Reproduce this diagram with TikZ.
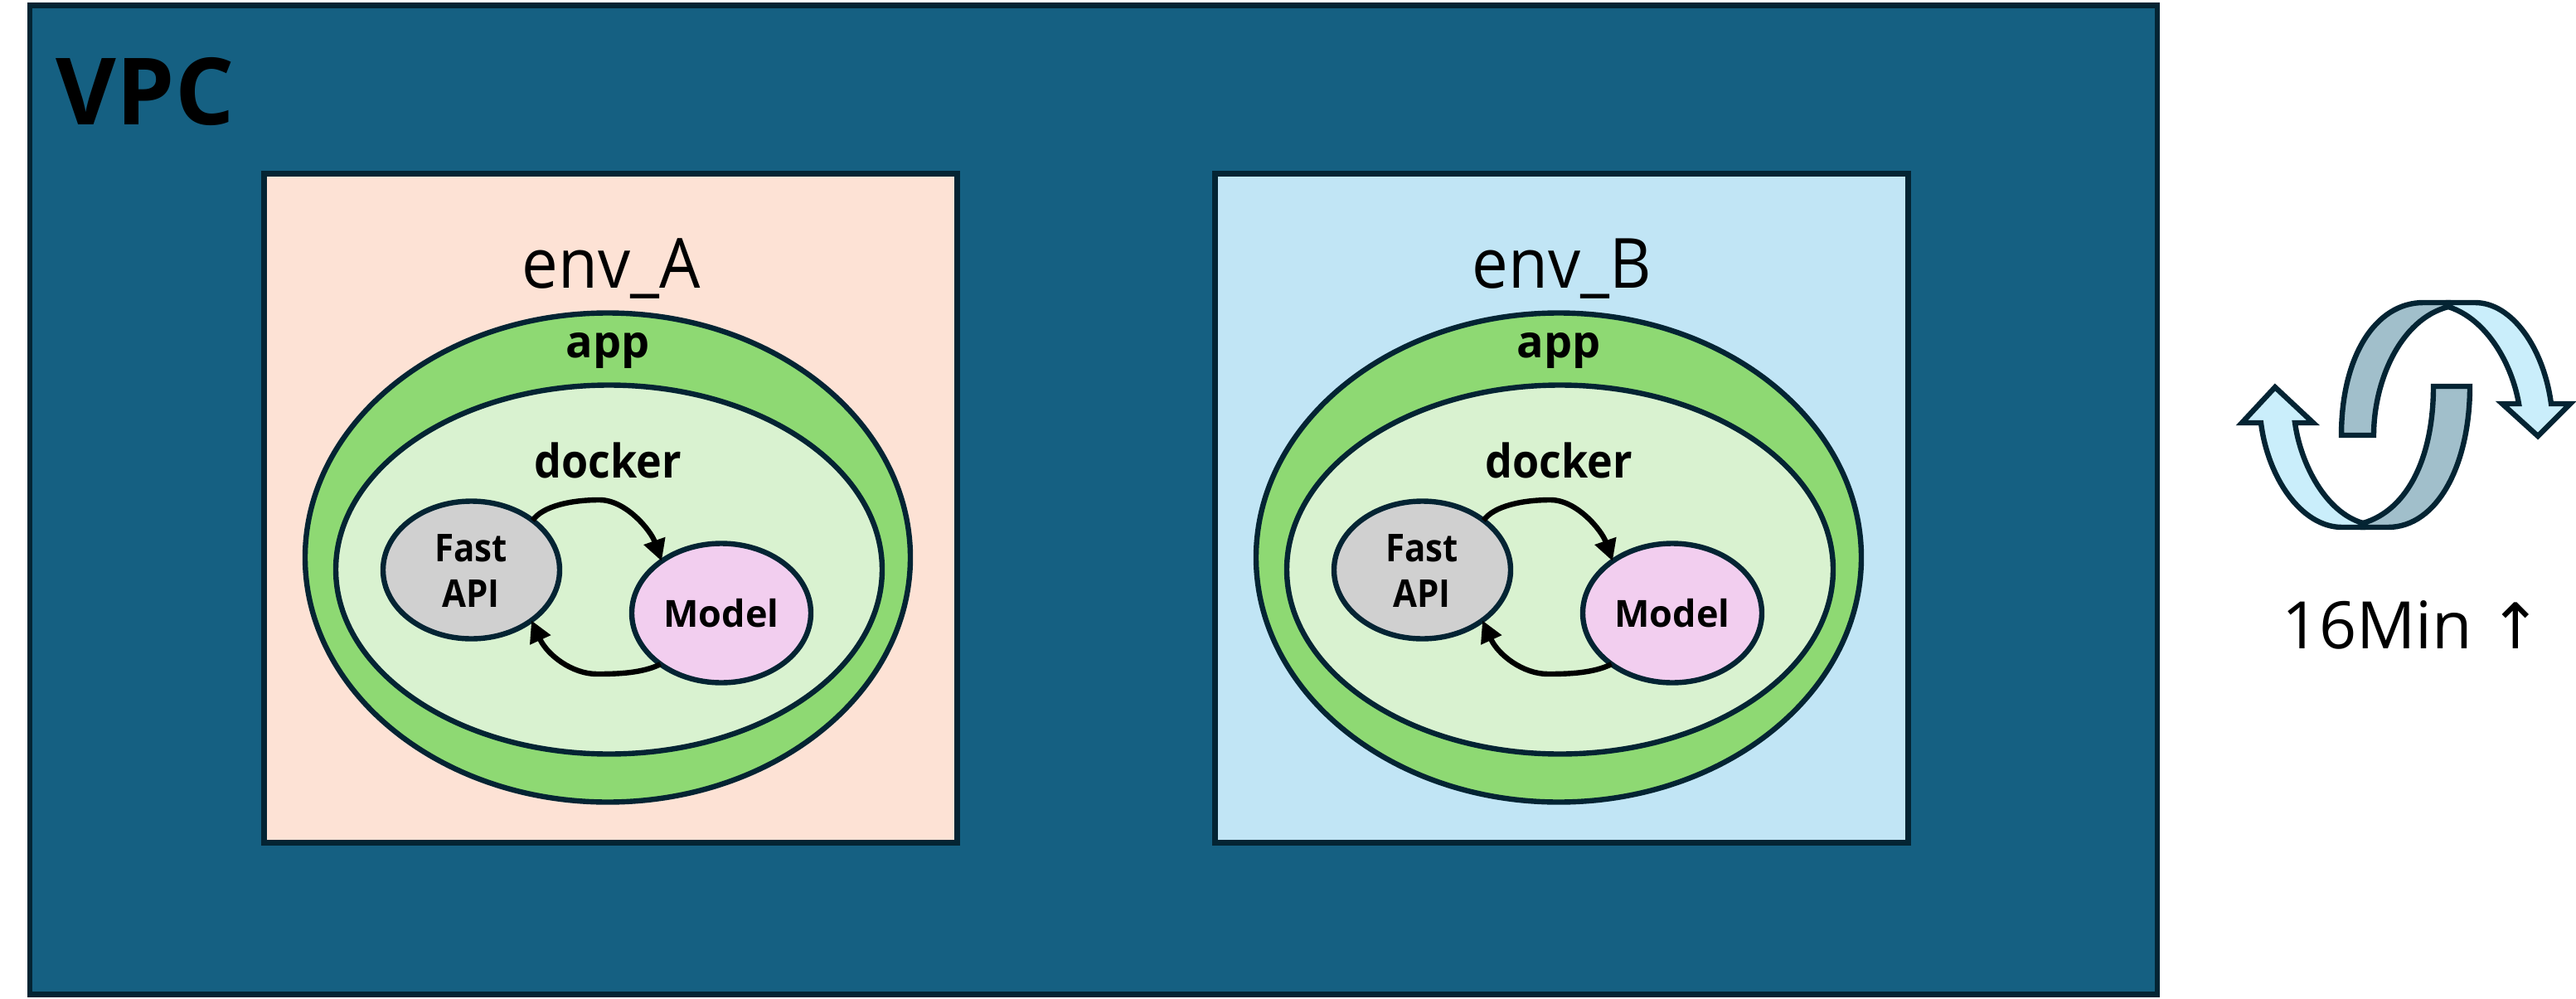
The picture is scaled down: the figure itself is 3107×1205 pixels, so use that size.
\documentclass[tikz,border=0pt]{standalone}
\usepackage{fontspec}
\usepackage{graphicx}
\setmainfont{Open Sans}
\newfontfamily\arrowfont{DejaVu Sans}
\usetikzlibrary{arrows.meta,shapes.geometric}
\definecolor{edgec}{HTML}{042433}
\definecolor{vpcc}{HTML}{156082}
\definecolor{envac}{HTML}{FDE2D5}
\definecolor{envbc}{HTML}{C1E5F5}
\definecolor{appc}{HTML}{8ED973}
\definecolor{dockc}{HTML}{D9F2D0}
\definecolor{fastc}{HTML}{D0D0D0}
\definecolor{modc}{HTML}{F2CEEF}
\definecolor{lightc}{HTML}{CAEEFB}
\definecolor{darkc}{HTML}{A1BFCB}
\tikzset{
  every node/.append style={outer sep=0pt},
  shapeline/.style={draw=edgec,line width=3.4pt},
  ringnode/.style={draw=edgec,line width=3.2pt,ellipse,inner sep=0pt},
  boldlabel/.style={text=black,inner sep=0pt,anchor=base},
  flow/.style={draw=black,line width=3.2pt,-{Triangle[length=13pt,width=13pt]}},
  iconline/.style={draw=edgec,line width=3.2pt,line join=miter},
}
\newcommand{\envgroup}[3]{%
  \begin{scope}[xshift=#1*0.5pt]
    \node[shapeline,fill=#2,minimum width=418pt,minimum height=403.5pt,inner sep=0pt] (box#3) at (736.5,613) {};
    \node[font=\fontsize{39}{42}\selectfont,inner sep=0pt,anchor=base,text=black] (env#3) at (737,347) {\scalebox{1}[1.07]{env\_#3}};
    \node[ringnode,fill=appc,minimum width=365pt,minimum height=295pt] (app#3) at (733,672.5) {};
    \node[boldlabel,font=\bfseries\fontsize{27}{30}\selectfont] (applab#3) at (733,431) {app};
    \node[ringnode,fill=dockc,minimum width=329.5pt,minimum height=222.5pt] (dock#3) at (734.5,687) {};
    \node[boldlabel,font=\bfseries\fontsize{26}{30}\selectfont] (docklab#3) at (733,576) {\scalebox{1}[1.08]{docker}};
    \node[ringnode,fill=fastc,minimum width=106.5pt,minimum height=83pt] (fast#3) at (568.5,687.5) {};
    \node[inner sep=0pt,text=black,font=\bfseries\fontsize{21}{27.5}\selectfont,align=center] (fasttxt#3) at (568,688) {\scalebox{1}[1.1]{Fast}\\\scalebox{1}[1.1]{API}};
    \node[ringnode,fill=modc,minimum width=108pt,minimum height=84pt] (model#3) at (870,739.5) {};
    \node[boldlabel,font=\bfseries\fontsize{22.5}{30}\selectfont] (modeltxt#3) at (870,756) {Model};
    \coordinate (upmid#3) at (723,603);
    \coordinate (lowmid#3) at (720,813);
    \draw[flow] (fast#3.39) .. controls (655,610) and (690,603) .. (upmid#3) .. controls (755,603) and (785,640) .. (model#3.139);
    \draw[flow] (model#3.220) .. controls (775,812) and (745,813) .. (lowmid#3) .. controls (690,813) and (660,790) .. (fast#3.-40);
  \end{scope}}
\begin{document}
\begin{tikzpicture}[x=0.5pt,y=-0.5pt]
\useasboundingbox (0,0) rectangle (3107,1205);
\node[shapeline,fill=vpcc,minimum width=1283pt,minimum height=596.5pt,inner sep=0pt,anchor=north west] (vpc) at (36,6.5) {};
\node[font=\bfseries\fontsize{56}{60}\selectfont,inner sep=0pt,anchor=base west,text=black] (vpclab) at (68,150) {VPC};
\envgroup{0}{envac}{A}
\envgroup{1147}{envbc}{B}
% loop icon
\draw[iconline,fill=darkc] (2824,525) .. controls (2824,430) and (2865,365) .. (2923,365)
  -- (2953,365) -- (2953,370) .. controls (2895,385) and (2863,460) .. (2863,525) -- cycle;
\draw[iconline,fill=darkc] (2979,466) -- (2935,466) .. controls (2935,550) and (2905,615) .. (2850,631)
  -- (2850,636) -- (2880,636) .. controls (2940,636) and (2979,560) .. (2979,466) -- cycle;
\draw[iconline,fill=lightc] (2953,370) -- (2953,365) -- (2985,365) .. controls (3030,365) and (3068,420) .. (3077,487)
  -- (3100,487) -- (3061,526) -- (3018,487) -- (3038,487) .. controls (3030,440) and (3000,385) .. (2953,370) -- cycle;
\draw[iconline,fill=lightc] (2850,631) -- (2850,636) -- (2825,636) .. controls (2775,636) and (2735,575) .. (2727,510)
  -- (2704,510) -- (2744,467) -- (2790,510) -- (2768,510) .. controls (2775,560) and (2805,618) .. (2850,631) -- cycle;
\node[font=\fontsize{39.5}{46}\selectfont,inner sep=0pt,anchor=base west,text=black] (timelab) at (2752,782) {16Min};
\node[font=\arrowfont\fontsize{38}{46}\selectfont,inner sep=0pt,anchor=base,text=black] (timearrow) at (3034,782) {↑};
\end{tikzpicture}
\end{document}
